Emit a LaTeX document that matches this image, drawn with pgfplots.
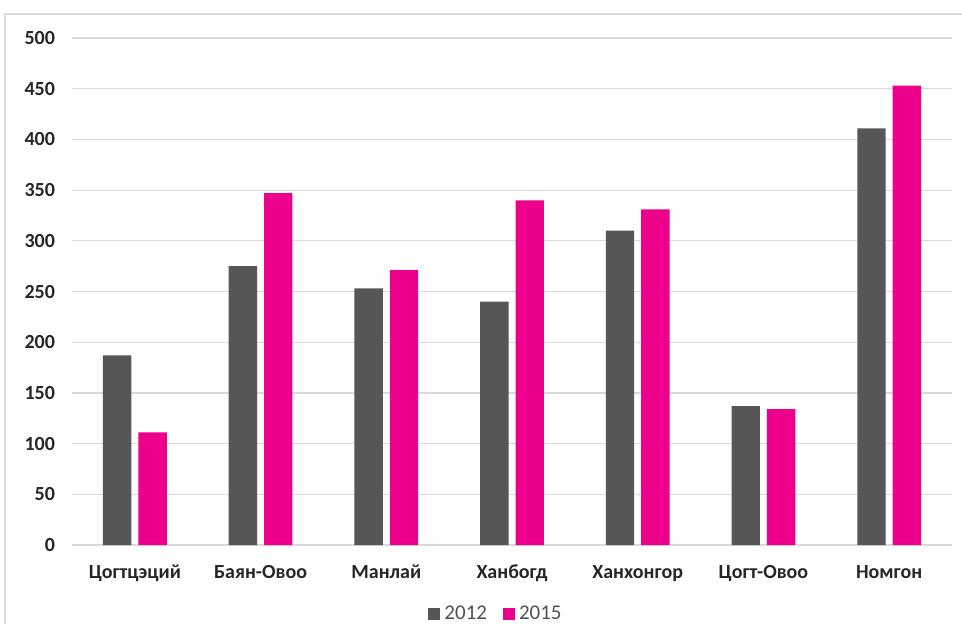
\documentclass[border=0pt]{standalone}
\usepackage{fontspec}
\setmainfont{Carlito}
\usepackage{pgfplots}
\pgfplotsset{compat=1.18}
\definecolor{cgray}{RGB}{87,87,89}
\definecolor{cpink}{RGB}{236,0,140}
\definecolor{cgrid}{RGB}{217,217,217}
\definecolor{ctext}{RGB}{38,38,38}
\begin{document}
\begin{tikzpicture}
\useasboundingbox (0,0) rectangle (481pt,311.5pt);
\draw[cgrid, line width=0.8pt] (490pt,304.5pt) -- (2.5pt,304.5pt) -- (2.5pt,-10pt);
\begin{axis}[
  at={(36pt,39pt)}, anchor=south west,
  scale only axis, width=440pt, height=253.5pt,
  ybar=3.5pt, bar width=14.2pt,
  ymin=0, ymax=500, xmin=-0.5, xmax=6.5,
  xtick=data,
  xticklabels={Цогтцэций,Баян-Овоо,Манлай,Ханбогд,Ханхонгор,Цогт-Овоо,Номгон},
  ytick={0,50,...,500},
  axis line style={draw=none},
  major tick length=0pt,
  ymajorgrids, grid style={cgrid, line width=0.6pt},
  tick label style={font=\fontsize{10}{11}\selectfont\bfseries, text=ctext},
  /pgf/number format/assume math mode=true,
  yticklabel style={xshift=-5pt},
  xticklabel style={yshift=-6.5pt},
  legend columns=2,
  legend style={at={(0.483,-0.136)}, anchor=center, draw=none, fill=none,
    font=\fontsize{10.5}{11}\selectfont, text=ctext!80,
    /tikz/every even column/.append style={column sep=6pt}},
  legend image code/.code={\fill[#1] (0pt,-3pt) rectangle (6pt,3pt);},
]
\addplot[fill=cgray, draw=none] coordinates {(0,187) (1,275) (2,253) (3,240) (4,310) (5,137) (6,411)};
\addplot[fill=cpink, draw=none] coordinates {(0,111) (1,347) (2,271) (3,340) (4,331) (5,134) (6,453)};
\legend{2012,2015}
\end{axis}
\end{tikzpicture}
\end{document}
